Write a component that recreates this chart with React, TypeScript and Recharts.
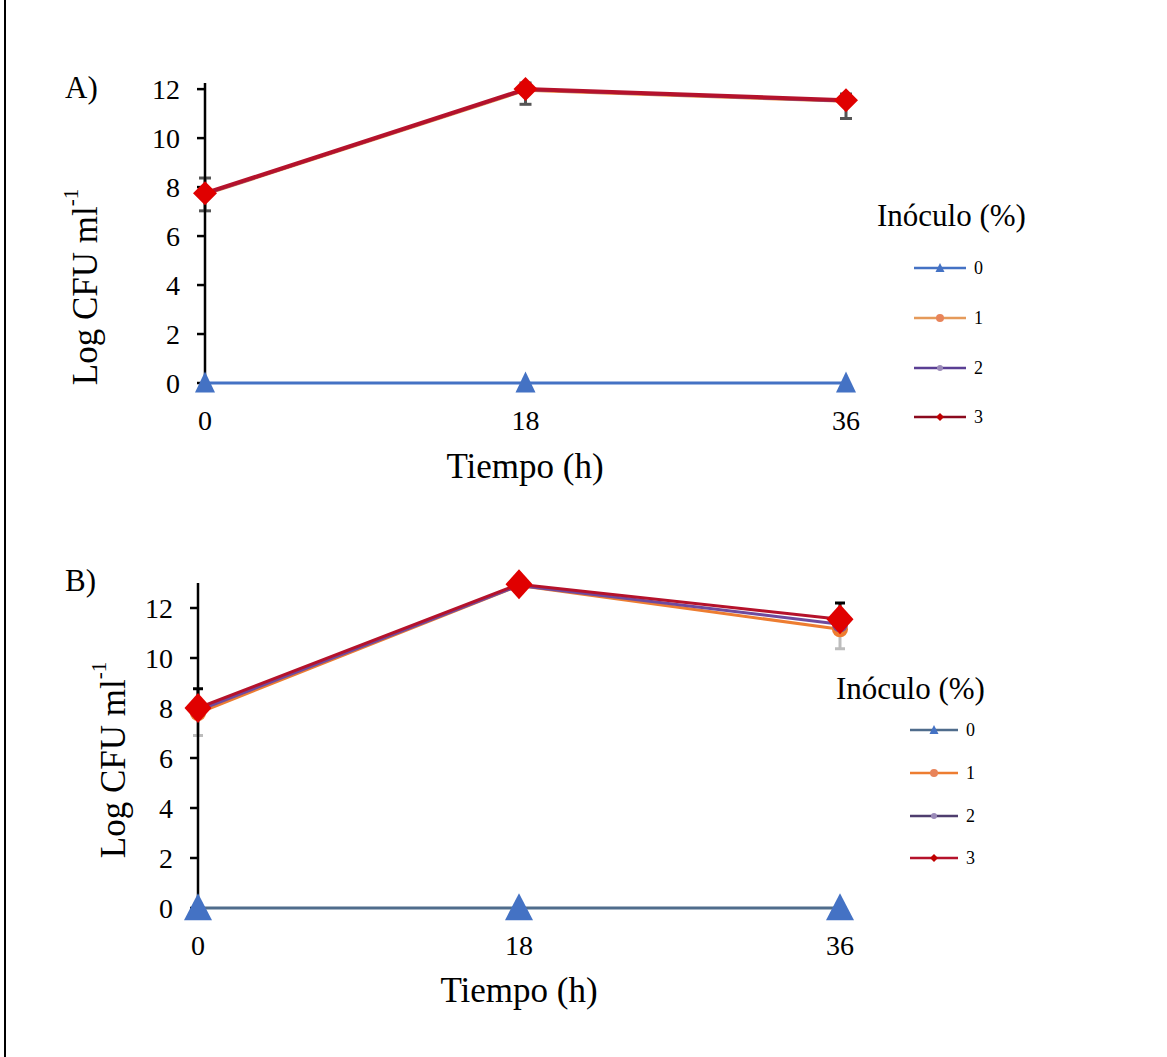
import React from 'react';
import { LineChart, Line, XAxis, YAxis, ErrorBar, Legend, Label } from 'recharts';

const FONT = '"Liberation Serif", "Times New Roman", serif';

const times = [0, 18, 36];
const seriesNames = ['0', '1', '2', '3'];
const yTicks = [0, 2, 4, 6, 8, 10, 12];

// Panel A
const aS0 = [0, 0, 0];
const aS1 = [7.7, 11.95, 11.5];
const aS2 = [7.72, 11.98, 11.52];
const aS3 = [7.75, 12.0, 11.55];
const aErr1 = [[0.67, 0.67], [0.57, 0.3], [0.7, 0.3]];

// Panel B
const bS0 = [0, 0, 0];
const bS1 = [7.8, 12.9, 11.15];
const bS2 = [7.9, 12.9, 11.35];
const bS3 = [8.0, 12.95, 11.55];
const bErrLow = [[0.9, 0], [0, 0], [0.78, 0]];
const bErrHigh = [[0, 0.87], [0, 0], [0, 0.85]];

const dataA = times.map((t, i) => ({ t, s0: aS0[i], s1: aS1[i], s2: aS2[i], s3: aS3[i], e1: aErr1[i] }));
const dataB = times.map((t, i) => ({ t, s0: bS0[i], s1: bS1[i], s2: bS2[i], s3: bS3[i], eLow: bErrLow[i], eHigh: bErrHigh[i] }));

const triangle = (cx: number, cy: number, w: number, h: number, fill: string, key?: any) => (
  <path key={key} d={`M${cx},${cy - h * 0.55} L${cx + w / 2},${cy + h * 0.45} L${cx - w / 2},${cy + h * 0.45} Z`} fill={fill} />
);
const diamond = (cx: number, cy: number, w: number, h: number, fill: string, key?: any) => (
  <path key={key} d={`M${cx},${cy - h / 2} L${cx + w / 2},${cy} L${cx},${cy + h / 2} L${cx - w / 2},${cy} Z`} fill={fill} />
);
const circle = (cx: number, cy: number, r: number, fill: string, key?: any) => (
  <circle key={key} cx={cx} cy={cy} r={r} fill={fill} />
);

const triDot = (w: number, h: number, fill: string) => (p: any) => triangle(p.cx, p.cy, w, h, fill, p.key ?? `t${p.index}`);
const diaDot = (w: number, h: number, fill: string) => (p: any) => diamond(p.cx, p.cy, w, h, fill, p.key ?? `d${p.index}`);
const cirDot = (r: number, fill: string) => (p: any) => circle(p.cx, p.cy, r, fill, p.key ?? `c${p.index}`);

const colors = {
  blueLineA: '#4472C4',
  blueLineB: '#4F6C8C',
  blueMarker: '#4472C4',
  orange: '#ED7D31',
  purple: '#6E4A9E',
  redLine: '#B5122B',
  redMarker: '#E00000',
};

const LegendBox = ({ items, lineX1, lineX2, labelX, title, titleX, titleY, fontSize }: any) => (
  <svg width={260} height={260} style={{ overflow: 'visible' }}>
    <text x={titleX} y={titleY} fontFamily={FONT} fontSize={31} fill="#000">{title}</text>
    {items.map((it: any, i: number) => {
      const mx = (lineX1 + lineX2) / 2;
      return (
        <g key={i}>
          <line x1={lineX1} x2={lineX2} y1={it.y} y2={it.y} stroke={it.color} strokeWidth={2.5} />
          {it.marker === 'tri' && triangle(mx, it.y, 9, 9, colors.blueMarker)}
          {it.marker === 'cir' && circle(mx, it.y, it.r, it.mcolor)}
          {it.marker === 'dia' && diamond(mx, it.y, 8, 8, it.mcolor)}
          <text x={labelX} y={it.y} dominantBaseline="central" fontFamily={FONT} fontSize={fontSize} fill="#000">{it.label}</text>
        </g>
      );
    })}
  </svg>
);

const yTitle = (cx: number, cy: number) => () => (
  <text x={cx} y={cy} transform={`rotate(-90, ${cx}, ${cy})`} textAnchor="middle" dominantBaseline="central" fontFamily={FONT} fontSize={35} fill="#000">
    Log CFU ml<tspan dy={-14} fontSize={21}>-1</tspan>
  </text>
);
const xTitle = (cx: number, cy: number) => () => (
  <text x={cx} y={cy} textAnchor="middle" dominantBaseline="central" fontFamily={FONT} fontSize={35} fill="#000">Tiempo (h)</text>
);

const tickStyle = { fill: '#000', fontSize: 28, fontFamily: FONT };

export default function App() {
  const legendItemsA = [
    { label: seriesNames[0], y: 78, color: colors.blueLineA, marker: 'tri' },
    { label: seriesNames[1], y: 128, color: '#E59A5A', marker: 'cir', r: 4, mcolor: '#E8845A' },
    { label: seriesNames[2], y: 178, color: '#5A3F94', marker: 'cir', r: 3, mcolor: '#9A8AB8' },
    { label: seriesNames[3], y: 227, color: '#8B0A1E', marker: 'dia', mcolor: '#C00000' },
  ];
  const legendItemsB = [
    { label: seriesNames[0], y: 70, color: colors.blueLineB, marker: 'tri' },
    { label: seriesNames[1], y: 113, color: colors.orange, marker: 'cir', r: 4, mcolor: '#E8845A' },
    { label: seriesNames[2], y: 156, color: '#4E3D6E', marker: 'cir', r: 3, mcolor: '#9A8AB8' },
    { label: seriesNames[3], y: 198, color: '#B5122B', marker: 'dia', mcolor: '#C00000' },
  ];

  return (
    <div style={{ position: 'absolute', left: 0, top: 0, width: 1167, height: 1057, background: '#fff', fontFamily: FONT }}>
      <div style={{ position: 'absolute', left: 4, top: 0, width: 2, height: 1057, background: '#000' }} />
      <div style={{ position: 'absolute', left: 65, top: 70, fontSize: 31, lineHeight: '36px' }}>A)</div>
      <div style={{ position: 'absolute', left: 65, top: 563, fontSize: 31, lineHeight: '36px' }}>B)</div>

      <div style={{ position: 'absolute', left: 0, top: 0 }}>
        <LineChart width={1167} height={520} data={dataA} margin={{ top: 83, right: 321, bottom: 77, left: 125 }}>
          <XAxis dataKey="t" type="number" domain={[0, 36]} ticks={times} axisLine={false} tickLine={false} tickSize={8} tickMargin={19} tick={tickStyle} height={60}>
            <Label content={xTitle(525, 466)} />
          </XAxis>
          <YAxis type="number" domain={[0, 12]} ticks={yTicks} width={80} axisLine={{ stroke: '#000', strokeWidth: 2.5 }} tickLine={{ stroke: '#000', strokeWidth: 2.5 }} tickSize={8} tickMargin={17} tick={tickStyle}>
            <Label content={yTitle(85, 287)} />
          </YAxis>
          <Line dataKey="s0" stroke={colors.blueLineA} strokeWidth={3} dot={triDot(20, 21, colors.blueMarker)} isAnimationActive={false} />
          <Line dataKey="s1" stroke={colors.orange} strokeWidth={3} dot={cirDot(7, colors.orange)} isAnimationActive={false}>
            <ErrorBar dataKey="e1" width={6} stroke="#555" strokeWidth={3} direction="y" />
          </Line>
          <Line dataKey="s2" stroke={colors.purple} strokeWidth={3} dot={cirDot(7, colors.purple)} isAnimationActive={false} />
          <Line dataKey="s3" stroke={colors.redLine} strokeWidth={4} dot={diaDot(24, 24, colors.redMarker)} isAnimationActive={false} />
          <Legend layout="vertical" align="center" verticalAlign="middle"
            wrapperStyle={{ position: 'absolute', left: 860, top: 190, width: 260, height: 260 }}
            content={() => <LegendBox items={legendItemsA} lineX1={54} lineX2={106} labelX={114} title="Inóculo (%)" titleX={17} titleY={36} fontSize={18} />} />
        </LineChart>
      </div>

      <div style={{ position: 'absolute', left: 0, top: 520 }}>
        <LineChart width={1167} height={537} data={dataB} margin={{ top: 63, right: 327, bottom: 89, left: 118 }}>
          <XAxis dataKey="t" type="number" domain={[0, 36]} ticks={times} axisLine={false} tickLine={false} tickSize={8} tickMargin={19} tick={tickStyle} height={60}>
            <Label content={xTitle(519, 470)} />
          </XAxis>
          <YAxis type="number" domain={[0, 13]} ticks={yTicks} width={80} axisLine={{ stroke: '#000', strokeWidth: 2.5 }} tickLine={{ stroke: '#000', strokeWidth: 2.5 }} tickSize={8} tickMargin={17} tick={tickStyle}>
            <Label content={yTitle(113, 240)} />
          </YAxis>
          <Line dataKey="s0" stroke={colors.blueLineB} strokeWidth={3} dot={triDot(28, 27, colors.blueMarker)} isAnimationActive={false} />
          <Line dataKey="s1" stroke={colors.orange} strokeWidth={3} dot={cirDot(8, colors.orange)} isAnimationActive={false}>
            <ErrorBar dataKey="eLow" width={5} stroke="#BDBDBD" strokeWidth={3} direction="y" />
          </Line>
          <Line dataKey="s2" stroke={colors.purple} strokeWidth={3} dot={cirDot(8, colors.purple)} isAnimationActive={false}>
            <ErrorBar dataKey="eHigh" width={5} stroke="#000" strokeWidth={3} direction="y" />
          </Line>
          <Line dataKey="s3" stroke={colors.redLine} strokeWidth={3} dot={diaDot(27, 30, colors.redMarker)} isAnimationActive={false} />
          <Legend layout="vertical" align="center" verticalAlign="middle"
            wrapperStyle={{ position: 'absolute', left: 830, top: 140, width: 260, height: 260 }}
            content={() => <LegendBox items={legendItemsB} lineX1={80} lineX2={128} labelX={136} title="Inóculo (%)" titleX={6} titleY={39} fontSize={18} />} />
        </LineChart>
      </div>
    </div>
  );
}
